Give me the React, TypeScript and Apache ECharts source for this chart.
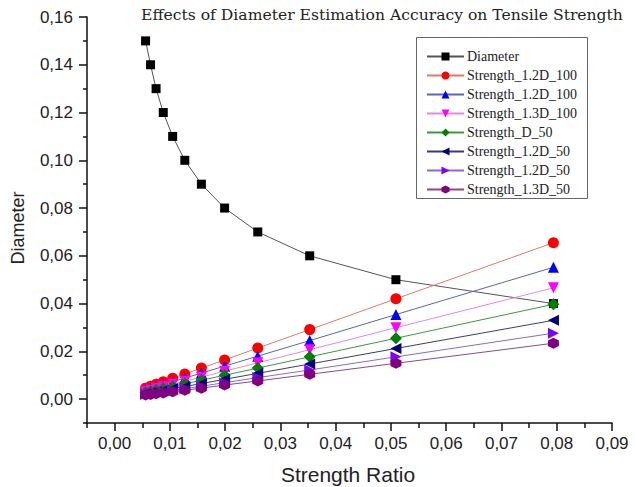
import React, { useEffect, useRef } from "react";
import * as echarts from "echarts";

const strengthRatio = [0.0056, 0.0065, 0.0075, 0.0088, 0.0105, 0.0127, 0.0157, 0.0199, 0.0259, 0.0353, 0.0509, 0.0794];
const diameter = [0.15, 0.14, 0.13, 0.12, 0.11, 0.10, 0.09, 0.08, 0.07, 0.06, 0.05, 0.04];
const s12D100a = [0.0046, 0.0054, 0.0062, 0.0073, 0.0087, 0.0105, 0.0130, 0.0164, 0.0214, 0.0291, 0.0420, 0.0655];
const s12D100b = [0.0039, 0.0045, 0.0052, 0.0061, 0.0073, 0.0088, 0.0109, 0.0138, 0.0180, 0.0245, 0.0354, 0.0552];
const s13D100 = [0.0033, 0.0038, 0.0044, 0.0052, 0.0062, 0.0075, 0.0092, 0.0117, 0.0152, 0.0207, 0.0299, 0.0466];
const sD50 = [0.0028, 0.0033, 0.0038, 0.0044, 0.0053, 0.0064, 0.0079, 0.0100, 0.0130, 0.0177, 0.0255, 0.0397];
const s12D50a = [0.0023, 0.0027, 0.0031, 0.0037, 0.0044, 0.0053, 0.0065, 0.0083, 0.0108, 0.0147, 0.0212, 0.0330];
const s12D50b = [0.0019, 0.0023, 0.0026, 0.0031, 0.0036, 0.0044, 0.0054, 0.0069, 0.0090, 0.0122, 0.0177, 0.0276];
const s13D50 = [0.0017, 0.0019, 0.0022, 0.0026, 0.0031, 0.0037, 0.0046, 0.0059, 0.0076, 0.0104, 0.0150, 0.0234];

const xTicks = [0, 0.01, 0.02, 0.03, 0.04, 0.05, 0.06, 0.07, 0.08, 0.09];
const xMinorTicks = [-0.005, 0.005, 0.015, 0.025, 0.035, 0.045, 0.055, 0.065, 0.075, 0.085];
const yTicks = [0, 0.02, 0.04, 0.06, 0.08, 0.10, 0.12, 0.14, 0.16];
const yMinorTicks = [-0.01, 0.01, 0.03, 0.05, 0.07, 0.09, 0.11, 0.13, 0.15];

const seriesDefs = [
  { name: "Diameter", data: diameter, symbol: "rect", size: 9, color: "#000000", line: "#555555" },
  { name: "Strength_1.2D_100", data: s12D100a, symbol: "circle", size: 11, color: "#ff0000", line: "#e07a6a" },
  { name: "Strength_1.2D_100 ", data: s12D100b, symbol: "path://M5,0 L10,10 L0,10 Z", size: 11, color: "#0000ff", line: "#5a64b8" },
  { name: "Strength_1.3D_100", data: s13D100, symbol: "path://M0,0 L10,0 L5,10 Z", size: 11, color: "#ff00ff", line: "#e08ae0" },
  { name: "Strength_D_50", data: sD50, symbol: "diamond", size: 12, color: "#008000", line: "#3c9a3c" },
  { name: "Strength_1.2D_50", data: s12D50a, symbol: "path://M0,5 L10,0 L10,10 Z", size: 11, color: "#000080", line: "#3a3a80" },
  { name: "Strength_1.2D_50 ", data: s12D50b, symbol: "path://M0,0 L10,5 L0,10 Z", size: 11, color: "#8000ff", line: "#8a6ad8" },
  { name: "Strength_1.3D_50", data: s13D50, symbol: "path://M5,0 L9.33,2.5 L9.33,7.5 L5,10 L0.67,7.5 L0.67,2.5 Z", size: 11, color: "#800080", line: "#8a4a8a" },
];

const fmt = (v: number) => (Math.abs(v) < 1e-9 ? 0 : v).toFixed(2).replace(".", ",");
const sans = "'Liberation Sans', Arial, sans-serif";
const serif = "'Liberation Serif', 'Times New Roman', serif";
const titleSerif = "'DejaVu Serif', 'Liberation Serif', serif";

export default function App() {
  const ref = useRef<HTMLDivElement>(null);
  useEffect(() => {
    if (!ref.current) return;
    const chart = echarts.init(ref.current, undefined, { renderer: "svg" });
    const axisLine = { show: true, onZero: false, lineStyle: { color: "#111", width: 1.5 } };
    chart.setOption({
      animation: false,
      backgroundColor: "#ffffff",
      grid: { left: 87, right: 23, top: 17, bottom: 64, containLabel: false },
      xAxis: [
        {
          type: "value", min: -0.005, max: 0.09, position: "bottom",
          axisLine, splitLine: { show: false },
          axisTick: { show: true, length: 8, customValues: xTicks, lineStyle: { color: "#111", width: 1.5 } },
          axisLabel: { customValues: xTicks, formatter: fmt, margin: 12, fontSize: 17, color: "#222", fontFamily: sans },
        },
        {
          type: "value", min: -0.005, max: 0.09, position: "bottom",
          axisLine: { show: false, onZero: false }, splitLine: { show: false },
          axisTick: { show: true, length: 5, customValues: xMinorTicks, lineStyle: { color: "#111", width: 1.5 } },
          axisLabel: { show: false },
        },
      ],
      yAxis: [
        {
          type: "value", min: -0.01, max: 0.16, position: "left",
          axisLine, splitLine: { show: false },
          axisTick: { show: true, length: 8, customValues: yTicks, lineStyle: { color: "#111", width: 1.5 } },
          axisLabel: { customValues: yTicks, formatter: fmt, margin: 14, fontSize: 17, color: "#222", fontFamily: sans },
        },
        {
          type: "value", min: -0.01, max: 0.16, position: "left",
          axisLine: { show: false, onZero: false }, splitLine: { show: false },
          axisTick: { show: true, length: 4, customValues: yMinorTicks, lineStyle: { color: "#111", width: 1.5 } },
          axisLabel: { show: false },
        },
      ],
      legend: {
        orient: "vertical", left: 426, top: 49.5, padding: 0,
        itemWidth: 37, itemHeight: 10, itemGap: 5,
        textStyle: { fontFamily: serif, fontSize: 14, lineHeight: 13, color: "#222", padding: [0, 0, 0, -2] },
        data: seriesDefs.map((s) => s.name),
        formatter: (n: string) => n.trim(),
      },
      graphic: [
        { type: "rect", shape: { x: 416.5, y: 37.5, width: 171, height: 161 }, style: { fill: "#fff", stroke: "#666", lineWidth: 1 }, z: -1 },
        { type: "text", x: 382, y: 15, style: { text: "Effects of Diameter Estimation Accuracy on Tensile Strength", fontFamily: titleSerif, fontSize: 15.6, fill: "#222", textAlign: "center", textVerticalAlign: "middle" } },
        { type: "text", x: 348, y: 474, style: { text: "Strength Ratio", fontFamily: sans, fontSize: 21, fill: "#222", textAlign: "center", textVerticalAlign: "middle" } },
        { type: "text", x: 18, y: 228, rotation: Math.PI / 2, style: { text: "Diameter", fontFamily: sans, fontSize: 18, fill: "#222", textAlign: "center", textVerticalAlign: "middle" } },
      ],
      series: seriesDefs.map((s) => ({
        name: s.name,
        type: "line",
        xAxisIndex: 0,
        yAxisIndex: 0,
        data: strengthRatio.map((x, i) => [x, s.data[i]]),
        symbol: s.symbol,
        symbolSize: s.size,
        showAllSymbol: true,
        itemStyle: { color: s.color, borderWidth: 0 },
        lineStyle: { color: s.line, width: 1 },
      })),
    });
    return () => chart.dispose();
  }, []);
  return <div ref={ref} style={{ position: "absolute", left: 0, top: 0, width: 635, height: 487 }} />;
}
